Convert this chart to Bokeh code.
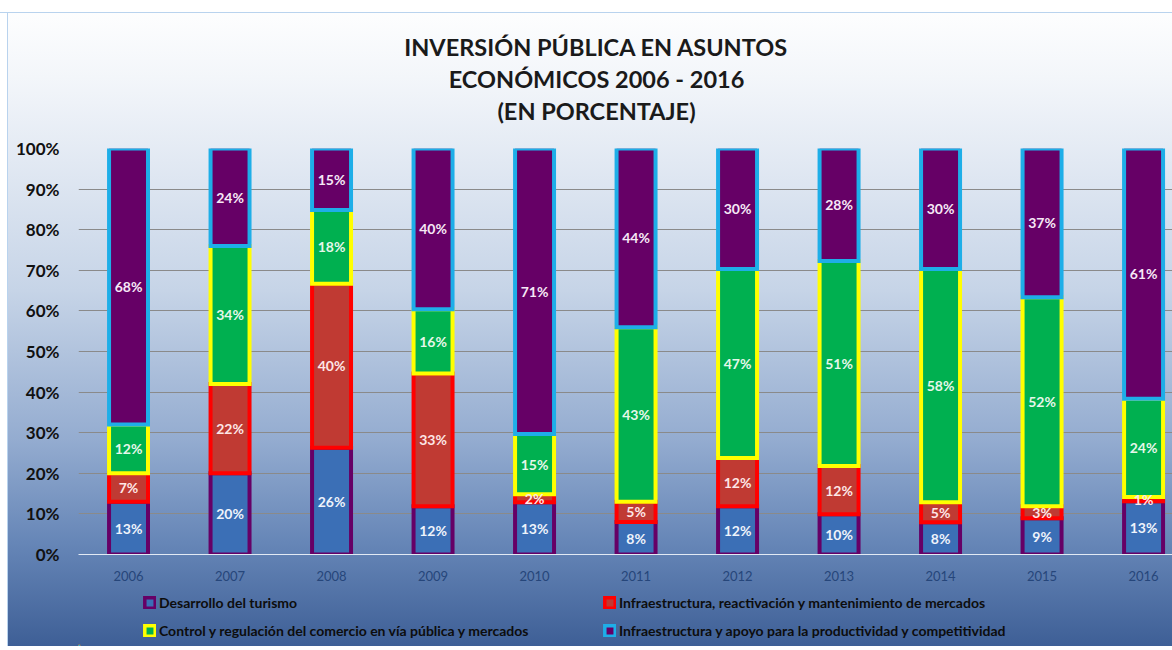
from bokeh.plotting import figure
from bokeh.layouts import column
from bokeh.models import ColumnDataSource, FixedTicker, Legend, LegendItem
from bokeh.core.properties import value
from bokeh.embed import file_html
from bokeh.resources import INLINE

years = [2006, 2007, 2008, 2009, 2010, 2011, 2012, 2013, 2014, 2015, 2016]
series_names = [
    "Desarrollo del turismo",
    "Infraestructura, reactivación y mantenimiento de mercados",
    "Control y regulación del comercio en vía pública y mercados",
    "Infraestructura y apoyo para la productividad y competitividad",
]
s_bottom = [13, 20, 26, 12, 13, 8, 12, 10, 8, 9, 13]
s_red = [7, 22, 40, 33, 2, 5, 12, 12, 5, 3, 1]
s_green = [12, 34, 18, 16, 15, 43, 47, 51, 58, 52, 24]
s_top = [68, 24, 15, 40, 71, 44, 30, 28, 30, 37, 61]
y_ticks = [0, 10, 20, 30, 40, 50, 60, 70, 80, 90, 100]
y_tick_labels = ["0%", "10%", "20%", "30%", "40%", "50%", "60%", "70%", "80%", "90%", "100%"]
title_lines = ["INVERSIÓN PÚBLICA EN ASUNTOS", "ECONÓMICOS 2006 - 2016", "(EN PORCENTAJE)"]

series = [s_bottom, s_red, s_green, s_top]
fills = ["#3b6fb6", "#c03a33", "#00b050", "#660066"]
lines = ["#660066", "#ff0000", "#ffff00", "#1eaee8"]
text_cols = ["#eef3fb", "#fde6e6", "#e6f7ea", "#f6e8f6"]

FONT = "Lato"
W = 1172
LEFT = 78


def clean(fig):
    fig.border_fill_alpha = 0
    fig.background_fill_alpha = 0
    fig.outline_line_color = None


# ---- title strip (frame aligned with the chart frame) ----
pt = figure(width=W, height=134, output_backend="svg", toolbar_location=None,
            x_range=(LEFT, W), y_range=(0, 134), min_border=0, min_border_left=LEFT,
            x_axis_location=None, y_axis_location=None)
clean(pt)
pt.grid.visible = False
pt.text(x=[596, 596, 596], y=[88, 56, 24], text=title_lines, text_align="center", text_baseline="middle",
        text_font=value(FONT), text_font_style="bold", text_font_size="23.5px", text_color="#1a1a1a")

# ---- main chart ----
p = figure(width=W, height=450, output_backend="svg", toolbar_location=None,
           x_range=(2005.507, 2016.285), y_range=(0, 100),
           min_border_left=LEFT, min_border_right=0, min_border_top=14, min_border_bottom=30)
clean(p)

totals = [sum(v[i] for v in series) for i in range(len(years))]
cum = [0.0] * len(years)
srcs = []
for k, vals in enumerate(series):
    bottoms = list(cum)
    tops = [cum[i] + vals[i] * 100.0 / totals[i] for i in range(len(years))]
    cum = tops
    src = ColumnDataSource(dict(x=years, bottom=bottoms, top=tops,
                                mid=[(b + t) / 2 for b, t in zip(bottoms, tops)],
                                lab=[f"{v}%" for v in vals]))
    p.vbar(x="x", bottom="bottom", top="top", width=0.384, source=src,
           fill_color=fills[k], line_color=lines[k], line_width=4, line_join="miter")
    srcs.append(src)

for k, src in enumerate(srcs):
    p.text(x="x", y="mid", text="lab", source=src, text_align="center", text_baseline="middle",
           text_font=value(FONT), text_font_style="bold", text_font_size="14px", text_color=text_cols[k])

p.yaxis.ticker = FixedTicker(ticks=y_ticks)
p.yaxis.major_label_overrides = {t: l for t, l in zip(y_ticks, y_tick_labels)}
p.yaxis.axis_line_color = None
p.yaxis.major_tick_line_color = None
p.yaxis.minor_tick_line_color = None
p.yaxis.major_label_standoff = 13
p.yaxis.major_label_text_font = FONT
p.yaxis.major_label_text_font_style = "bold"
p.yaxis.major_label_text_font_size = "17px"
p.yaxis.major_label_text_color = "#111111"

p.xaxis.ticker = FixedTicker(ticks=years)
p.xaxis.major_label_overrides = {y: str(y) for y in years}
p.xaxis.axis_line_color = "#e2eaf4"
p.xaxis.axis_line_width = 1
p.xaxis.major_tick_line_color = None
p.xaxis.minor_tick_line_color = None
p.xaxis.major_label_standoff = 10
p.xaxis.major_label_text_font = FONT
p.xaxis.major_label_text_font_size = "13px"
p.xaxis.major_label_text_color = "#26467a"

p.xgrid.grid_line_color = None
p.ygrid.ticker = FixedTicker(ticks=y_ticks)
p.ygrid.grid_line_color = "#8a8a8a"
p.ygrid.grid_line_width = 1

# ---- legend strip (frame aligned with the chart frame) ----
pl = figure(width=W, height=62, output_backend="svg", toolbar_location=None,
            x_range=(LEFT, W), y_range=(0, 62), min_border=0, min_border_left=LEFT,
            x_axis_location=None, y_axis_location=None)
clean(pl)
pl.grid.visible = False
dummies = []
for k in range(4):
    dummies.append(pl.vbar(x=[-1000], top=[-1000], bottom=[-1001], width=1, fill_color=fills[k],
                           line_color=lines[k], line_width=3.5, line_join="miter"))


def make_legend(idx, loc):
    items = [LegendItem(label=series_names[i], renderers=[dummies[i]]) for i in idx]
    return Legend(items=items, orientation="horizontal", location=loc,
                  label_width=440, glyph_width=13, glyph_height=13, label_height=14,
                  label_standoff=3, spacing=4, padding=0, margin=0,
                  label_text_font=FONT, label_text_font_style="bold", label_text_font_size="14px",
                  label_text_color="#0d0d0d", background_fill_alpha=0, border_line_alpha=0)


pl.add_layout(make_legend([0, 1], (143 - LEFT, 35)))
pl.add_layout(make_legend([2, 3], (143 - LEFT, 7)))

layout = column(pt, p, pl, spacing=0)
layout.styles = {
    "background": "linear-gradient(to bottom, #ffffff 0px, #ffffff 12px, #b9d3ee 12px, #b9d3ee 13px, rgba(255,255,255,0) 13px), "
                  "linear-gradient(to right, #ffffff 0px, #ffffff 7px, #b9d3ee 7px, #b9d3ee 8px, rgba(255,255,255,0) 8px), "
                  "linear-gradient(to bottom, #ffffff 0%, #f3f6fa 12%, #e2e9f3 25%, #c6d4e7 45%, #94acd0 68%, #6686b7 84%, #3e5f96 100%)",
}

open("out.html", "w").write(file_html(layout, INLINE))
